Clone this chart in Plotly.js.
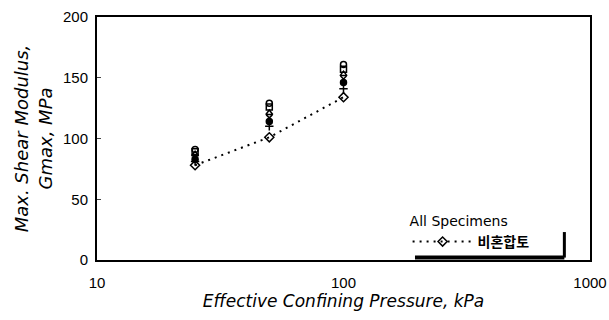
<!DOCTYPE html>
<html><head><meta charset="utf-8">
<script src="https://cdn.plot.ly/plotly-3.0.1.min.js"></script>
<style>body{margin:0;background:#fff}#c{width:609px;height:320px}</style>
</head><body><div id="c"></div>
<script>
const pressure = [25, 50, 100];
const spec1 = [91, 129, 161];
const spec2 = [89, 126, 157];
const spec3 = [87, 121, 153];
const spec4 = [85, 117, 149];
const spec5 = [83, 114, 146];
const spec6 = [81, 110, 141];
const unmixed = [78, 101, 134];
const unmixedName = '비혼합토';

const others = [
  [spec1, 'circle-open'], [spec2, 'square-open'], [spec3, 'triangle-up-open'],
  [spec4, 'x-thin-open'], [spec5, 'circle'], [spec6, 'cross-thin-open']
];
const traces = others.map(([v, sym]) => ({
  x: pressure, y: v, mode: 'markers', type: 'scatter', showlegend: false,
  marker: {symbol: sym, size: 6, color: '#000', line: {color: '#000', width: 1.5}}
}));
traces.push({
  x: pressure, y: unmixed, mode: 'lines+markers', type: 'scatter', name: unmixedName,
  line: {color: '#000', width: 2, dash: '2px,5px'},
  marker: {symbol: 'diamond-open', size: 7, color: '#000', line: {color: '#000', width: 1.5}}
});

const layout = {
  width: 609, height: 320,
  margin: {l: 97, r: 19, t: 17, b: 60},
  paper_bgcolor: '#fff', plot_bgcolor: '#fff',
  font: {family: 'Liberation Sans, Arial, sans-serif', color: '#000', size: 15},
  xaxis: {
    type: 'log', range: [1, 3], tickvals: [10, 100, 1000], ticktext: ['10', '100', '1000'],
    showgrid: false, zeroline: false, showline: true, linewidth: 2, linecolor: '#000', mirror: true,
    ticks: '', ticklen: 0, ticklabelstandoff: 8,
    title: {text: 'Effective Confining Pressure, kPa', font: {family: 'DejaVu Sans, sans-serif', size: 17, style: 'italic'}, standoff: 4}
  },
  yaxis: {
    range: [0, 200], dtick: 50, showgrid: false, zeroline: false,
    showline: true, linewidth: 2, linecolor: '#000', mirror: true,
    ticks: 'inside', ticklen: 4, tickwidth: 1, ticklabelstandoff: 4,
    title: {text: 'Max. Shear Modulus,<br>Gmax, MPa', font: {family: 'DejaVu Sans, sans-serif', size: 18, style: 'italic'}, standoff: 6}
  },
  showlegend: true,
  legend: {
    x: 0.63, y: 0.215, xanchor: 'left', yanchor: 'top',
    bgcolor: 'rgba(0,0,0,0)', borderwidth: 0, itemwidth: 60,
    title: {text: 'All Specimens', font: {family: 'DejaVu Sans, sans-serif', size: 14, weight: 'normal'}},
    font: {family: 'Noto Sans CJK KR, sans-serif', size: 14, weight: 'bold'}
  },
  shapes: [
    {type: 'line', xref: 'paper', yref: 'paper', x0: 0.645, x1: 0.948, y0: 0.01, y1: 0.01, line: {color: '#000', width: 4}},
    {type: 'line', xref: 'paper', yref: 'paper', x0: 0.948, x1: 0.948, y0: 0.01, y1: 0.115, line: {color: '#000', width: 3}}
  ]
};
Plotly.newPlot('c', traces, layout, {displayModeBar: false});
</script></body></html>
